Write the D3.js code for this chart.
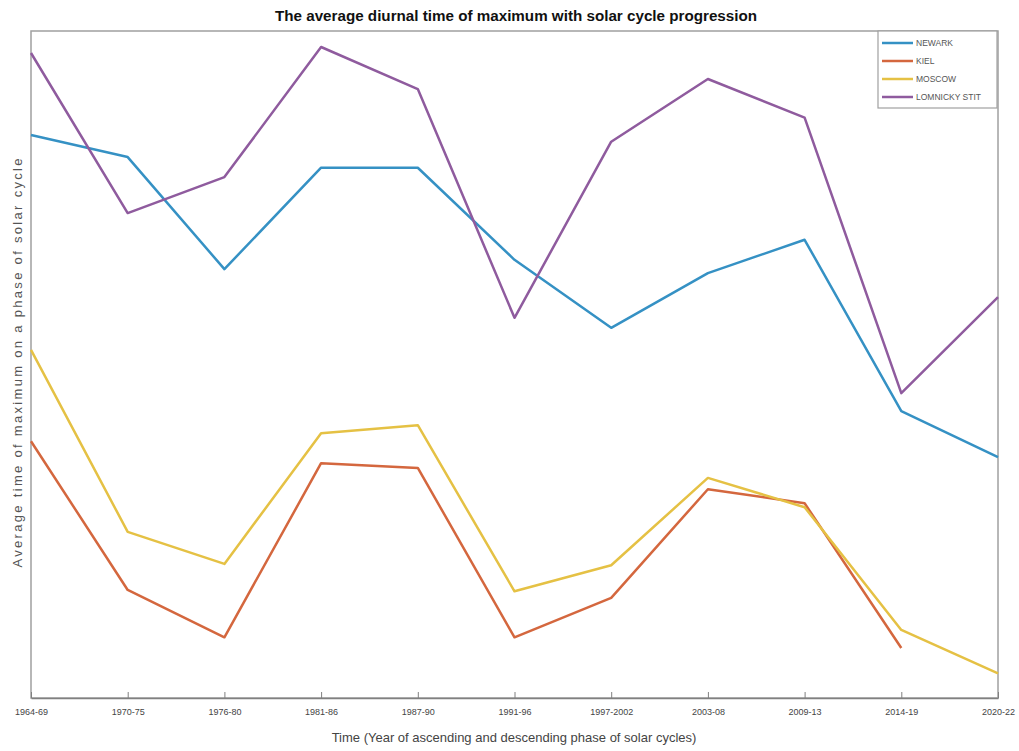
<!DOCTYPE html>
<html>
<head>
<meta charset="utf-8">
<script src="https://cdn.jsdelivr.net/npm/d3@7"></script>
<style>
  body { margin: 0; background: #fff; }
  svg { display: block; font-family: "Liberation Sans", Arial, sans-serif; }
</style>
</head>
<body>
<svg id="chart"></svg>
<script>
const periods = ["1964-69", "1970-75", "1976-80", "1981-86", "1987-90", "1991-96",
    "1997-2002", "2003-08", "2009-13", "2014-19", "2020-22"];

const newark = [84.4, 81.1, 64.3, 79.5, 79.5, 65.7, 55.5, 63.7, 68.7, 43.0, 36.1];
const kiel = [38.5, 16.2, 9.1, 35.2, 34.5, 9.1, 15.0, 31.3, 29.2, 7.5];
const moscow = [52.2, 24.9, 20.1, 39.7, 40.9, 16.0, 19.9, 33.0, 28.6, 10.2, 3.7];
const lomnicky = [96.7, 72.7, 78.1, 97.6, 91.3, 57.0, 83.4, 92.8, 87.0, 45.7, 60.1];

const seriesNames = ["NEWARK", "KIEL", "MOSCOW", "LOMNICKY STIT"];
const seriesColors = ["#3591c4", "#d4673e", "#e5c144", "#8f5b9e"];

const width = 1019, height = 751;
const margin = { top: 31, right: 21, bottom: 53, left: 31 };
const w = width - margin.left - margin.right;
const h = height - margin.top - margin.bottom;

const series = [newark, kiel, moscow, lomnicky].map((vals, i) => ({
    name: seriesNames[i],
    color: seriesColors[i],
    values: vals.map((v, j) => ({ period: periods[j], value: v }))
}));

const svg = d3.select("#chart").attr("width", width).attr("height", height);
const g = svg.append("g").attr("transform", `translate(${margin.left},${margin.top})`);

const x = d3.scalePoint().domain(periods).range([0, w]);
const y = d3.scaleLinear().domain([0, 100]).range([h, 0]);

// plot box
g.append("rect")
    .attr("width", w)
    .attr("height", h)
    .attr("fill", "none")
    .attr("stroke", "#a0a0a0")
    .attr("stroke-width", 1.5);

// x axis with inward ticks
const xAxis = g.append("g")
    .attr("transform", `translate(0,${h})`)
    .call(d3.axisBottom(x).tickSizeInner(-6).tickSizeOuter(0).tickPadding(11));
xAxis.select(".domain").attr("stroke", "#808080").attr("stroke-width", 1.5);
xAxis.selectAll(".tick line").attr("stroke", "#808080");
xAxis.selectAll(".tick text")
    .attr("fill", "#444")
    .style("font-size", "9px");

// lines
const line = d3.line()
    .x(d => x(d.period))
    .y(d => y(d.value));

g.selectAll(".series")
    .data(series)
    .enter()
    .append("path")
    .attr("class", "series")
    .attr("d", d => line(d.values))
    .attr("fill", "none")
    .attr("stroke", d => d.color)
    .attr("stroke-width", 2.5)
    .attr("stroke-linejoin", "round");

// title
svg.append("text")
    .attr("x", 516)
    .attr("y", 21)
    .attr("text-anchor", "middle")
    .attr("textLength", 482)
    .attr("lengthAdjust", "spacingAndGlyphs")
    .style("font-size", "14px")
    .style("font-weight", "bold")
    .attr("fill", "#111")
    .text("The average diurnal time of maximum with solar cycle progression");

// axis labels
svg.append("text")
    .attr("x", 514)
    .attr("y", 742)
    .attr("text-anchor", "middle")
    .style("font-size", "13px")
    .attr("fill", "#444")
    .text("Time (Year of ascending and descending phase of solar cycles)");

svg.append("text")
    .attr("transform", "translate(22,363) rotate(-90)")
    .attr("text-anchor", "middle")
    .attr("textLength", 409)
    .attr("lengthAdjust", "spacing")
    .style("font-size", "13px")
    .attr("fill", "#555")
    .text("Average time of maximum on a phase of solar cycle");

// legend
const legend = svg.append("g").attr("transform", "translate(878,31)");
legend.append("rect")
    .attr("width", 119)
    .attr("height", 77)
    .attr("fill", "#fff")
    .attr("stroke", "#a0a0a0")
    .attr("stroke-width", 1.2);

const legendGroups = legend.selectAll(".item")
    .data(series)
    .enter()
    .append("g")
    .attr("class", "item")
    .attr("transform", (d, i) => `translate(0,${12 + i * 18})`);

legendGroups.append("line")
    .attr("x1", 4)
    .attr("x2", 35)
    .attr("stroke", d => d.color)
    .attr("stroke-width", 2.5);

legendGroups.append("text")
    .attr("x", 38)
    .attr("y", 3)
    .style("font-size", "8.5px")
    .attr("fill", "#555")
    .text(d => d.name);
</script>
</body>
</html>
